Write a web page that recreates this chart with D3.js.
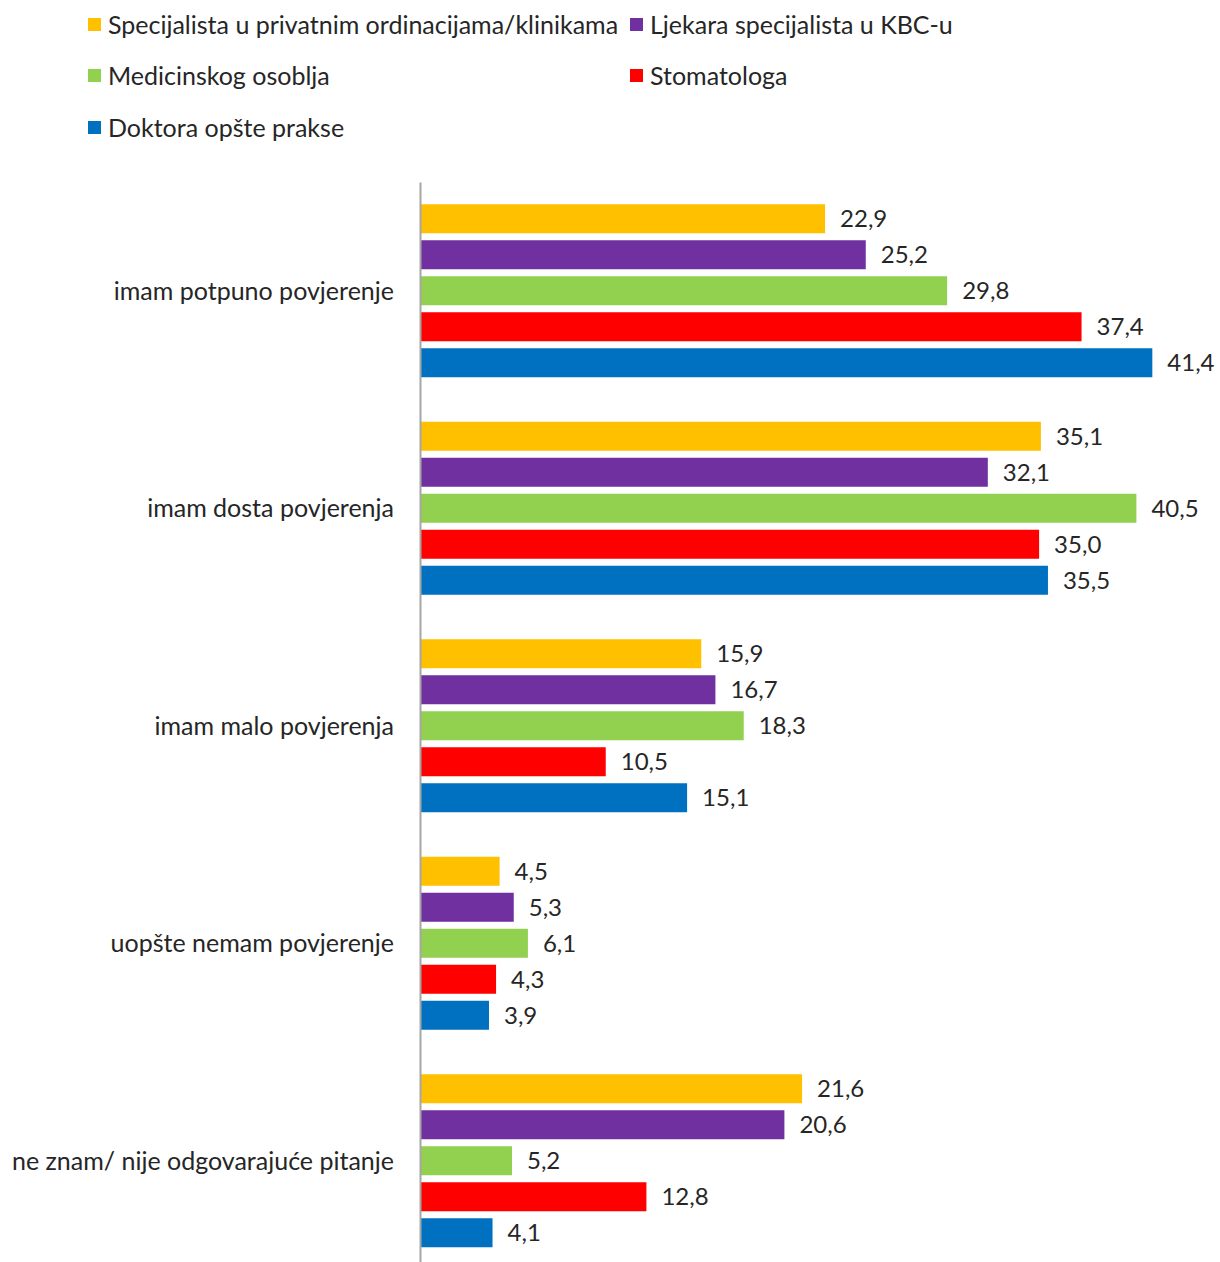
<!DOCTYPE html>
<html><head><meta charset="utf-8">
<script src="https://cdn.jsdelivr.net/npm/d3@7"></script>
<style>body{margin:0;background:#fff;} svg{display:block;}</style>
</head><body>
<svg id="chart" width="1220" height="1262"></svg>
<script>
const categories = ["imam potpuno povjerenje","imam dosta povjerenja","imam malo povjerenja","uopšte nemam povjerenje","ne znam/ nije odgovarajuće pitanje"];
const seriesNames = ["Specijalista u privatnim ordinacijama/klinikama","Ljekara specijalista u KBC-u","Medicinskog osoblja","Stomatologa","Doktora opšte prakse"];
const seriesColors = ["#FFC000","#7030A0","#92D050","#FF0000","#0070C0"];
const specijalista = [22.9,35.1,15.9,4.5,21.6];
const ljekaraKBC = [25.2,32.1,16.7,5.3,20.6];
const medicinsko = [29.8,40.5,18.3,6.1,5.2];
const stomatologa = [37.4,35.0,10.5,4.3,12.8];
const doktora = [41.4,35.5,15.1,3.9,4.1];
const seriesValues = [specijalista, ljekaraKBC, medicinsko, stomatologa, doktora];

const svg = d3.select("#chart");
const FONT = "Lato, 'Open Sans', sans-serif";
const textColor = "#262626";
const fmt = v => v.toFixed(1).replace(".", ",");

const x = d3.scaleLinear().domain([0,45]).range([420,1216]);
const y = d3.scaleBand().domain(categories).range([182,1269.5]).padding(0);
const yi = d3.scaleBand().domain(seriesNames).range([0,173]).paddingInner(7/36).paddingOuter(0);
const innerOff = (y.bandwidth()-173)/2;

// bars
categories.forEach((cat, ci) => {
  const g = svg.append("g").attr("transform", `translate(0,${y(cat)+innerOff})`);
  seriesNames.forEach((s, si) => {
    const v = seriesValues[si][ci];
    g.append("rect").attr("x", x(0)).attr("y", yi(s)).attr("width", x(v)-x(0)).attr("height", yi.bandwidth()).attr("fill", seriesColors[si]);
    g.append("text").attr("x", x(v)+15).attr("y", yi(s)+yi.bandwidth()/2).attr("dy","0.36em")
      .attr("font-family", FONT).attr("font-size", 24).attr("fill", textColor).text(fmt(v));
  });
});

// axis
const axis = d3.axisLeft(y).tickSize(0).tickPadding(26);
const ag = svg.append("g").attr("transform", `translate(${x(0)},0)`).call(axis);
ag.select(".domain").attr("stroke", "#a6a6a6").attr("stroke-width", 2);
ag.selectAll("text").attr("font-family", FONT).attr("font-size", 25).attr("fill", textColor).attr("dy","0.36em");

// legend
const legendPos = [[88,25],[630,25],[88,76],[630,76],[88,128]];
seriesNames.forEach((s, i) => {
  const [lx, ly] = legendPos[i];
  svg.append("rect").attr("x", lx).attr("y", ly-7).attr("width", 13).attr("height", 13).attr("fill", seriesColors[i]);
  svg.append("text").attr("x", lx+20).attr("y", ly).attr("dy","0.36em")
    .attr("font-family", FONT).attr("font-size", 25).attr("fill", textColor).text(s);
});
</script>
</body></html>
